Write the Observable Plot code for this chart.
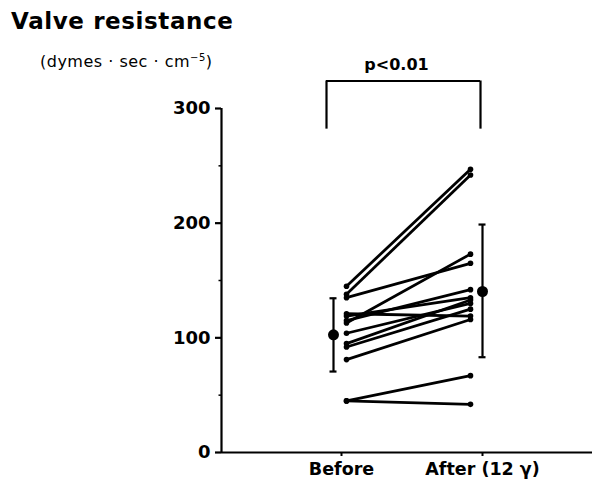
<!DOCTYPE html>
<html><head><meta charset="utf-8">
<script src="https://cdn.jsdelivr.net/npm/d3@7"></script>
<script src="https://cdn.jsdelivr.net/npm/@observablehq/plot@0.6"></script>
<style>
body{margin:0;background:#fff;}
#wrap{position:relative;width:592px;height:488px;font-family:"DejaVu Sans",sans-serif;color:#000;}
#title{position:absolute;left:11px;top:10px;font-weight:bold;font-size:23px;letter-spacing:0.6px;line-height:1;white-space:nowrap;}
#sub{position:absolute;left:40px;top:53px;font-size:16px;letter-spacing:0.5px;line-height:1;white-space:nowrap;}
#sub sup{font-size:10px;vertical-align:6px;}
</style></head><body>
<div id="wrap"><div id="chart"></div><div id="title">Valve resistance</div><div id="sub">(dymes · sec · cm<sup>−5</sup>)</div></div>
<script>
// categories
const groups = ["Before", "After (12 γ)"];
// paired individual values (same index = same patient)
const before = [145, 138, 135, 113, 121, 119, 115, 104, 95, 92, 81, 45, 45];
const after  = [247, 242, 165, 173, 119, 135, 142, 130, 133, 125, 116, 67, 42];
// group mean ± SD
const meanValues = [102.6, 140.4];
const sdLow = [70.6, 83.1];
const sdHigh = [134.5, 198.8];
// axis ticks
const yTicks = [0, 100, 200, 300];
const yMinor = [50, 150, 250];
// significance bracket
const pLabel = "p<0.01";
const bracketTop = 324;
const bracketBottom = 282;

const xMin = -125 / 124, xMax = 246 / 124;
const pairs = before.map((b, i) => ({b, a: after[i]}));
const meanDx = [-13, 12];
const font = {fontFamily: "DejaVu Sans", fontWeight: "bold"};

const meanMarks = groups.flatMap((g, i) => [
  Plot.ruleX([i], {y1: sdLow[i], y2: sdHigh[i], dx: meanDx[i], strokeWidth: 2.2, stroke: "black"}),
  Plot.ruleY([sdLow[i], sdHigh[i]], {x1: i, x2: i, dx: meanDx[i], insetLeft: -3.5, insetRight: -3.5, strokeWidth: 2.2, stroke: "black"}),
  Plot.dot([meanValues[i]], {x: () => i, y: d => d, dx: meanDx[i], r: 5.5, fill: "black", stroke: "none"})
]);

const chart = Plot.plot({
  width: 592, height: 488,
  marginTop: 108, marginBottom: 36, marginLeft: 221, marginRight: 0,
  style: {fontFamily: "DejaVu Sans", color: "black", background: "white"},
  x: {type: "linear", domain: [xMin, xMax], axis: null},
  y: {domain: [0, 300], axis: null},
  marks: [
    Plot.ruleX([xMin], {y1: 0, y2: 300, strokeWidth: 2.2, stroke: "black"}),
    Plot.ruleY([0], {strokeWidth: 2.2, stroke: "black"}),
    Plot.axisY({ticks: yTicks, tickSize: 6, tickPadding: 5, fontSize: 18, ...font, strokeWidth: 2.2, label: null}),
    Plot.axisY({ticks: yMinor, tickSize: 2.5, tickFormat: () => "", strokeWidth: 1.5, label: null}),
    Plot.axisX({ticks: [0], tickSize: 4, tickPadding: 6, tickFormat: () => groups[0], dx: -5, fontSize: 17.5, ...font, strokeWidth: 2, label: null}),
    Plot.axisX({ticks: [1], tickSize: 4, tickPadding: 6, tickFormat: () => groups[1], dx: 12, fontSize: 17.5, ...font, strokeWidth: 2, label: null}),
    Plot.link(pairs, {x1: () => 0, y1: "b", x2: () => 1, y2: "a", stroke: "black", strokeWidth: 2.8}),
    Plot.dot(before, {x: () => 0, y: d => d, r: 2.8, fill: "black", stroke: "none"}),
    Plot.dot(after, {x: () => 1, y: d => d, r: 2.8, fill: "black", stroke: "none"}),
    ...meanMarks,
    Plot.ruleY([bracketTop], {x1: 0, x2: 1, insetLeft: -20, insetRight: -10, strokeWidth: 2.2, stroke: "black"}),
    Plot.ruleX([0], {y1: bracketBottom, y2: bracketTop, dx: -20, strokeWidth: 2.2, stroke: "black"}),
    Plot.ruleX([1], {y1: bracketBottom, y2: bracketTop, dx: 10, strokeWidth: 2.2, stroke: "black"}),
    Plot.text([pLabel], {x: () => 0.5, y: () => bracketTop, dx: -12, dy: -16, fontSize: 16, ...font, fill: "black"})
  ]
});
document.getElementById("chart").appendChild(chart);
</script>
</body></html>
